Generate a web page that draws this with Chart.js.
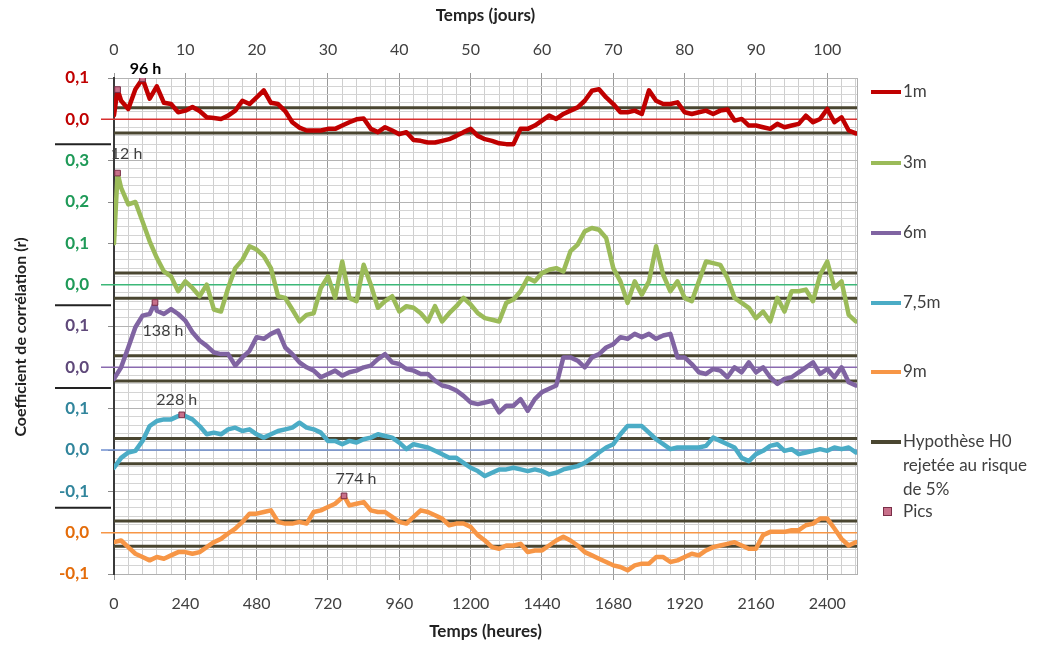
<!DOCTYPE html>
<html lang="fr">
<head>
<meta charset="UTF-8">
<title>Coefficient de corrélation</title>
<script src="https://cdn.jsdelivr.net/npm/chart.js"></script>
<style>
  body { margin: 0; background: #fff; font-family: Lato, sans-serif; }
  #wrap { position: relative; width: 1041px; height: 646px; }
  .lg { position: absolute; left: 871px; font-size: 17px; color: #404040; line-height: 24px; white-space: nowrap; }
  .sw { display: inline-block; width: 30px; height: 4px; vertical-align: middle; margin-right: 2px; position: relative; top: -1px; }
  .pic { display: inline-block; width: 7px; height: 7px; background: #c8708a; border: 1px solid #7a2e48; margin: 0 11px 0 12px; vertical-align: middle; position: relative; top: -1px; }
</style>
</head>
<body>
<div id="wrap">
  <canvas id="chart" width="1041" height="646"></canvas>
  <div class="lg" style="top:79px"><span class="sw" style="background:#c00000"></span>1m</div>
  <div class="lg" style="top:150px"><span class="sw" style="background:#9bbb59"></span>3m</div>
  <div class="lg" style="top:220px"><span class="sw" style="background:#8064a2"></span>6m</div>
  <div class="lg" style="top:290px"><span class="sw" style="background:#4bacc6"></span>7,5m</div>
  <div class="lg" style="top:359px"><span class="sw" style="background:#f79646"></span>9m</div>
  <div class="lg" style="top:429px"><span class="sw" style="background:#4a4631"></span>Hypothèse H0<br><span style="margin-left:32px">rejetée au risque</span><br><span style="margin-left:32px">de 5%</span></div>
  <div class="lg" style="top:499px"><span class="pic"></span>Pics</div>
</div>

<script>
// hours since start (one reading per day)
const hours = [
  0, 24, 48, 72, 96, 120, 144, 168,
  192, 216, 240, 264, 288, 312, 336, 360,
  384, 408, 432, 456, 480, 504, 528, 552,
  576, 600, 624, 648, 672, 696, 720, 744,
  768, 792, 816, 840, 864, 888, 912, 936,
  960, 984, 1008, 1032, 1056, 1080, 1104, 1128,
  1152, 1176, 1200, 1224, 1248, 1272, 1296, 1320,
  1344, 1368, 1392, 1416, 1440, 1464, 1488, 1512,
  1536, 1560, 1584, 1608, 1632, 1656, 1680, 1704,
  1728, 1752, 1776, 1800, 1824, 1848, 1872, 1896,
  1920, 1944, 1968, 1992, 2016, 2040, 2064, 2088,
  2112, 2136, 2160, 2184, 2208, 2232, 2256, 2280,
  2304, 2328, 2352, 2376, 2400, 2424, 2448, 2472,
  2496
];

const seriesNames = ['1m', '3m', '6m', '7,5m', '9m'];

const r1m = [
  0.01, 0.045, 0.025, 0.073, 0.098, 0.05, 0.08, 0.04,
  0.037, 0.017, 0.021, 0.03, 0.02, 0.005, 0.003, 0.001,
  0.009, 0.021, 0.045, 0.037, 0.053, 0.07, 0.04, 0.037,
  0.02, -0.007, -0.02, -0.027, -0.027, -0.027, -0.023, -0.023,
  -0.015, -0.007, 0, 0.002, -0.023, -0.031, -0.019, -0.027,
  -0.036, -0.031, -0.05, -0.052, -0.056, -0.056, -0.052, -0.048,
  -0.04, -0.031, -0.023, -0.04, -0.048, -0.052, -0.058, -0.06,
  -0.06, -0.023, -0.023, -0.015, -0.003, 0.009, 0.001, 0.013,
  0.021, 0.029, 0.045, 0.069, 0.073, 0.053, 0.037, 0.017,
  0.017, 0.021, 0.013, 0.07, 0.045, 0.037, 0.037, 0.041,
  0.017, 0.013, 0.017, 0.021, 0.013, 0.021, 0.024, -0.003,
  0.001, -0.015, -0.015, -0.019, -0.023, -0.011, -0.019, -0.015,
  -0.011, 0.009, -0.007, 0.001, 0.025, -0.007, 0.005, -0.027,
  -0.034
];

const r3m = [
  0.1, 0.234, 0.194, 0.2, 0.153, 0.105, 0.065, 0.032,
  0.02, -0.016, 0.008, -0.008, -0.028, 0, -0.06, -0.065,
  -0.008, 0.04, 0.06, 0.093, 0.085, 0.069, 0.04, -0.028,
  -0.032, -0.06, -0.089, -0.073, -0.069, -0.008, 0.02, -0.032,
  0.056, -0.032, -0.04, 0.048, 0, -0.056, -0.04, -0.028,
  -0.065, -0.052, -0.056, -0.069, -0.089, -0.052, -0.089, -0.069,
  -0.052, -0.032, -0.048, -0.069, -0.081, -0.085, -0.089, -0.044,
  -0.036, -0.016, 0.016, 0.008, 0.028, 0.036, 0.04, 0.032,
  0.081, 0.097, 0.129, 0.137, 0.133, 0.113, 0.04, 0.008,
  -0.044, 0.008, -0.024, 0.008, 0.093, 0.024, -0.016, 0.008,
  -0.032, -0.04, 0.008, 0.056, 0.052, 0.048, 0.016, -0.032,
  -0.044, -0.056, -0.081, -0.065, -0.089, -0.032, -0.065, -0.016,
  -0.016, -0.012, -0.04, 0.024, 0.056, -0.008, 0.008, -0.073,
  -0.089
];

const r6m = [
  -0.028, 0, 0.048, 0.097, 0.125, 0.129, 0.137, 0.129,
  0.141, 0.129, 0.113, 0.085, 0.065, 0.052, 0.036, 0.032,
  0.032, 0.004, 0.024, 0.04, 0.073, 0.069, 0.081, 0.089,
  0.048, 0.032, 0.012, 0, -0.008, -0.024, -0.016, -0.008,
  -0.02, -0.012, -0.008, 0, 0.004, 0.02, 0.032, 0.012,
  0.008, -0.004, -0.008, -0.016, -0.016, -0.032, -0.044, -0.048,
  -0.056, -0.069, -0.085, -0.089, -0.085, -0.081, -0.109, -0.093,
  -0.093, -0.077, -0.105, -0.077, -0.06, -0.052, -0.044, 0.024,
  0.024, 0.016, 0, 0.024, 0.032, 0.048, 0.056, 0.073,
  0.069, 0.081, 0.073, 0.081, 0.069, 0.077, 0.081, 0.024,
  0.024, 0.008, -0.012, -0.016, -0.004, -0.008, -0.024, 0,
  -0.012, 0.012, -0.012, 0, -0.024, -0.04, -0.028, -0.024,
  -0.012, 0, 0.012, -0.016, -0.004, -0.024, 0, -0.036,
  -0.044
];

const r75m = [
  -0.043, -0.019, -0.006, -0.002, 0.022, 0.058, 0.07, 0.074,
  0.074, 0.082, 0.082, 0.074, 0.058, 0.038, 0.042, 0.038,
  0.05, 0.054, 0.046, 0.05, 0.038, 0.03, 0.038, 0.046,
  0.05, 0.054, 0.066, 0.054, 0.05, 0.042, 0.022, 0.022,
  0.014, 0.022, 0.018, 0.026, 0.03, 0.038, 0.034, 0.03,
  0.018, 0.002, 0.014, 0.01, 0.006, -0.002, -0.01, -0.019,
  -0.019, -0.031, -0.043, -0.051, -0.063, -0.055, -0.047, -0.047,
  -0.043, -0.047, -0.051, -0.047, -0.051, -0.059, -0.055, -0.047,
  -0.043, -0.039, -0.031, -0.019, -0.006, 0.006, 0.014, 0.038,
  0.058, 0.058, 0.058, 0.042, 0.026, 0.014, 0.002, 0.006,
  0.006, 0.006, 0.006, 0.01, 0.03, 0.022, 0.014, 0.006,
  -0.019, -0.027, -0.01, -0.002, 0.01, 0.014, -0.002, 0.002,
  -0.01, -0.006, -0.002, 0.002, -0.002, 0.006, 0.002, 0.006,
  -0.006
];

const r9m = [
  -0.023, -0.019, -0.035, -0.051, -0.059, -0.067, -0.059, -0.063,
  -0.055, -0.047, -0.047, -0.051, -0.047, -0.035, -0.023, -0.015,
  -0.002, 0.01, 0.026, 0.046, 0.046, 0.05, 0.054, 0.026,
  0.022, 0.022, 0.026, 0.022, 0.05, 0.054, 0.062, 0.07,
  0.085, 0.066, 0.07, 0.074, 0.054, 0.05, 0.05, 0.038,
  0.026, 0.022, 0.038, 0.054, 0.05, 0.042, 0.034, 0.018,
  0.022, 0.022, 0.014, -0.006, -0.019, -0.035, -0.039, -0.031,
  -0.031, -0.027, -0.047, -0.043, -0.043, -0.031, -0.019, -0.01,
  -0.019, -0.031, -0.047, -0.055, -0.063, -0.071, -0.079, -0.083,
  -0.091, -0.079, -0.075, -0.075, -0.059, -0.059, -0.071, -0.067,
  -0.059, -0.051, -0.055, -0.043, -0.035, -0.031, -0.027, -0.023,
  -0.031, -0.039, -0.039, -0.006, 0.002, 0.002, 0.002, 0.006,
  0.006, 0.018, 0.022, 0.034, 0.034, 0.01, -0.015, -0.031,
  -0.023
];

// peaks ("Pics")
const picSeries = [0, 0, 1, 2, 3, 4];
const picHours = [12, 96, 12, 138, 228, 774];
const picValues = [0.072, 0.098, 0.27, 0.157, 0.085, 0.089];
const picLabels = ['', '96 h', '12 h', '138 h', '228 h', '774 h'];

// critical r for H0 (5 %)
const h0Upper = 0.028;
const h0Lower = -0.033;

// left-axis tick labels, bottom (-0.1) to top (1.1) on the stacked axis
const yTickLabels = ['-0,1', '0,0', '-0,1', '0,0', '0,1', '0,0', '0,1', '0,0', '0,1', '0,2', '0,3', '0,0', '0,1'];

// ---- styling ----
const allSeries = [r1m, r3m, r6m, r75m, r9m];
const offsets = [1.0, 0.6, 0.4, 0.2, 0.0];
const lineColors = ['#c00000', '#9bbb59', '#8064a2', '#4bacc6', '#f79646'];
const zeroColors = ['#d83030', '#3cb878', '#8a6ab0', '#6f8fd0', '#f79646'];
const tickColors = ['#e46c0a', '#e46c0a', '#31859c', '#31859c', '#31859c', '#5f497a', '#5f497a',
                    '#1f9a58', '#1f9a58', '#1f9a58', '#1f9a58', '#c00000', '#c00000'];
const h0Color = '#4a4631';
const breakLines = [0.94, 0.55, 0.35, 0.06];
const labelOffsets = [[0, 0], [3, -10], [9, -19], [8, 28], [-5, -15], [12, -17]];
const FONT = 'Lato, sans-serif';
const HOUR_MAX = 2500;

Chart.defaults.font.family = FONT;

const datasets = [];

allSeries.forEach((vals, s) => {
  const pts = hours.map((h, i) => ({ x: h, y: vals[i] + offsets[s] }));
  picSeries.forEach((ps, k) => {
    if (ps === s && !hours.includes(picHours[k])) pts.push({ x: picHours[k], y: picValues[k] + offsets[s] });
  });
  pts.sort((a, b) => a.x - b.x);
  datasets.push({
    label: seriesNames[s],
    data: pts,
    borderColor: lineColors[s],
    borderWidth: 4.5,
    pointRadius: 0,
    borderJoinStyle: 'round',
    borderCapStyle: 'round',
    order: 2
  });
});

offsets.forEach(off => {
  [h0Upper, h0Lower].forEach(lim => {
    datasets.push({
      label: 'H0',
      data: [{ x: 0, y: off + lim }, { x: HOUR_MAX, y: off + lim }],
      borderColor: h0Color,
      borderWidth: 3,
      pointRadius: 0,
      order: 3
    });
  });
});

datasets.push({
  label: 'Pics',
  data: picHours.map((h, k) => ({ x: h, y: picValues[k] + offsets[picSeries[k]] })),
  showLine: false,
  pointStyle: 'rect',
  pointRadius: 4,
  pointBackgroundColor: '#c8708a',
  pointBorderColor: '#7a2e48',
  pointBorderWidth: 1,
  order: 0
});

const decor = {
  id: 'decor',
  beforeDatasetsDraw(chart) {
    const { ctx, chartArea: a, scales: { y } } = chart;
    ctx.save();
    ctx.lineWidth = 1.5;
    offsets.forEach((off, i) => {
      const py = y.getPixelForValue(off);
      ctx.strokeStyle = zeroColors[i];
      ctx.beginPath();
      ctx.moveTo(a.left - 13, py);
      ctx.lineTo(a.right, py);
      ctx.stroke();
    });
    ctx.restore();
  },
  afterDatasetsDraw(chart) {
    const { ctx } = chart;
    const meta = chart.getDatasetMeta(chart.data.datasets.length - 1);
    ctx.save();
    ctx.textAlign = 'center';
    ctx.textBaseline = 'middle';
    meta.data.forEach((pt, k) => {
      if (!picLabels[k]) return;
      const bold = k === 1;
      ctx.font = (bold ? 'bold ' : '') + '16px ' + FONT;
      ctx.fillStyle = bold ? '#000' : '#404040';
      ctx.fillText(picLabels[k], pt.x + labelOffsets[k][0], pt.y + labelOffsets[k][1]);
    });
    ctx.restore();
  },
  afterDraw(chart) {
    const { ctx, chartArea: a, scales: { y } } = chart;
    ctx.save();
    ctx.strokeStyle = '#222';
    ctx.lineWidth = 2;
    breakLines.forEach(v => {
      const py = y.getPixelForValue(v);
      ctx.beginPath();
      ctx.moveTo(a.left - 59, py);
      ctx.lineTo(a.left - 3, py);
      ctx.stroke();
    });
    ctx.strokeStyle = '#b0b0b0';
    ctx.lineWidth = 1;
    ctx.beginPath();
    ctx.moveTo(a.right + 0.5, a.top);
    ctx.lineTo(a.right + 0.5, a.bottom);
    ctx.stroke();
    // y-axis title, a little below the plot centre as in the source
    ctx.translate(21, (a.top + a.bottom) / 2 + 11);
    ctx.rotate(-Math.PI / 2);
    ctx.font = 'bold 16px ' + FONT;
    ctx.fillStyle = '#222';
    ctx.textAlign = 'center';
    ctx.textBaseline = 'middle';
    ctx.fillText('Coefficient de corrélation (r)', 0, 0);
    ctx.restore();
  }
};

const isMajorY = v => Math.round(v * 50) % 5 === 0;

new Chart(document.getElementById('chart'), {
  type: 'line',
  data: { datasets },
  options: {
    responsive: false,
    animation: false,
    layout: { padding: { left: 0, right: 184, top: 0, bottom: 0 } },
    plugins: { legend: { display: false }, tooltip: { enabled: false } },
    scales: {
      x: {
        type: 'linear',
        position: 'bottom',
        min: 0,
        max: HOUR_MAX,
        afterFit: s => { s.height = 72; },
        border: { color: '#b0b0b0' },
        grid: {
          color: c => (c.tick && c.tick.value % 240 === 0) ? '#9a9a9a' : '#cfcfcf',
          tickColor: c => (c.tick && c.tick.value % 240 === 0) ? '#9a9a9a' : 'rgba(0,0,0,0)',
          tickLength: 6
        },
        ticks: {
          stepSize: 48,
          includeBounds: false,
          autoSkip: false,
          maxRotation: 0,
          padding: 14,
          color: '#404040',
          font: { size: 16 },
          callback: v => (v % 240 === 0 ? String(v) : '')
        },
        title: {
          display: true,
          text: 'Temps (heures)',
          color: '#222',
          font: { size: 17, weight: 'bold' },
          padding: { top: 0, bottom: 4 }
        }
      },
      x2: {
        type: 'linear',
        position: 'top',
        min: 0,
        max: HOUR_MAX / 24,
        afterFit: s => { s.height = 78; },
        border: { display: false },
        grid: { drawOnChartArea: false, tickLength: 5, color: '#9a9a9a' },
        ticks: {
          stepSize: 10,
          includeBounds: false,
          autoSkip: false,
          maxRotation: 0,
          padding: 14,
          color: '#404040',
          font: { size: 16 }
        },
        title: {
          display: true,
          text: 'Temps (jours)',
          color: '#222',
          font: { size: 17, weight: 'bold' },
          padding: { top: 5, bottom: 0 }
        }
      },
      y: {
        type: 'linear',
        min: -0.1,
        max: 1.1,
        afterFit: s => { s.width = 114; },
        border: { color: '#3a3a3a', width: 2 },
        grid: {
          color: c => (c.tick && isMajorY(c.tick.value)) ? '#b4b4b4' : '#d4d4d4',
          tickColor: c => (c.tick && isMajorY(c.tick.value)) ? '#8a8a8a' : 'rgba(0,0,0,0)',
          tickLength: 6
        },
        ticks: {
          stepSize: 0.02,
          autoSkip: false,
          padding: 19,
          font: { size: 17, weight: 'bold' },
          color: c => tickColors[Math.round(c.tick.value * 10) + 1] || '#404040',
          callback: v => (isMajorY(v) ? yTickLabels[Math.round(v * 10) + 1] : '')
        }
      }
    }
  },
  plugins: [decor]
});
</script>
</body>
</html>
